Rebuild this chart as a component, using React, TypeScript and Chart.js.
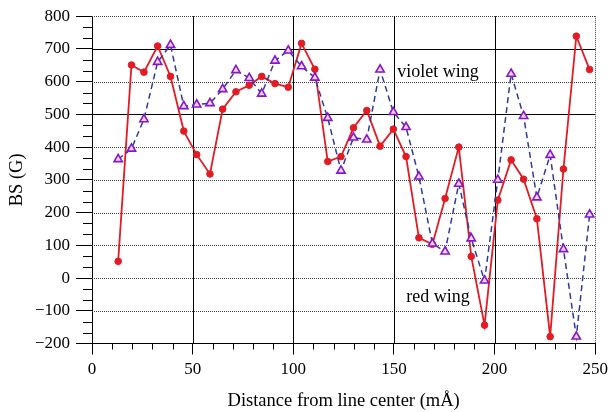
import React, { useEffect, useRef } from "react";
import { Chart, registerables } from "chart.js";

Chart.register(...registerables);

// Distance from line center (mÅ) of each sample
const distance = [
  13.0, 19.6, 25.8, 32.6, 39.0, 45.6, 52.0, 58.6, 64.9, 71.5, 78.1, 84.3, 90.9,
  97.5, 104.1, 110.7, 117.1, 123.7, 129.9, 136.5, 143.1, 149.7, 156.0, 162.4,
  169.1, 175.4, 182.2, 188.4, 195.0, 201.6, 208.2, 214.4, 221.0, 227.6, 234.2,
  240.6, 247.2,
];

// Field strength BS (G) measured in the red wing
const redWing = [
  51, 651, 629, 709, 616, 449, 377, 318, 516, 569, 589, 616, 594, 583, 717, 638,
  356, 371, 459, 512, 403, 455, 371, 123, 103, 243, 400, 66, -144, 238, 361, 302,
  181, -179, 333, 739, 637,
];

// Field strength BS (G) measured in the violet wing
const violetWing = [
  363, 395, 485, 660, 712, 525, 530, 534, 577, 635, 611, 563, 664, 695, 647, 612,
  489, 328, 429, 423, 637, 507, 461, 310, 105, 81, 288, 121, -8, 300, 624, 495,
  246, 376, 88, -179, 194,
];

const xTicks = [0, 50, 100, 150, 200, 250];
const yTicks = [-200, -100, 0, 100, 200, 300, 400, 500, 600, 700, 800];

// In-plot labels: text with its anchor in data units
const wingLabels = [
  { text: "violet wing", x: 151.7, y: 614 },
  { text: "red wing", x: 156.1, y: -74 },
];

const SERIF = "'Liberation Serif', 'DejaVu Serif', serif";

const framePlugin = {
  id: "frame",
  beforeDatasetsDraw(chart: any) {
    const { ctx, chartArea, scales } = chart;
    const { left, right, top, bottom } = chartArea;
    const xs = scales.x;
    const ys = scales.y;
    ctx.save();
    // horizontal grid
    yTicks.forEach((v) => {
      if (v === -200) return;
      const y = Math.round(ys.getPixelForValue(v)) + 0.5;
      const solid = v === 700 || v === 500;
      ctx.beginPath();
      ctx.lineWidth = 1;
      ctx.strokeStyle = solid ? "#000" : "#444";
      ctx.setLineDash(solid ? [] : [1, 1]);
      ctx.moveTo(left, y);
      ctx.lineTo(right, y);
      ctx.stroke();
    });
    // vertical grid
    xTicks.forEach((v) => {
      if (v === 0) return;
      const x = Math.round(xs.getPixelForValue(v)) + 0.5;
      const edge = v === 250;
      ctx.beginPath();
      ctx.lineWidth = 1;
      ctx.strokeStyle = edge ? "#444" : "#000";
      ctx.setLineDash(edge ? [1, 1] : []);
      ctx.moveTo(x, top);
      ctx.lineTo(x, bottom);
      ctx.stroke();
    });
    ctx.setLineDash([]);
    // minor ticks on x (every 10)
    ctx.strokeStyle = "#000";
    for (let v = 10; v < 250; v += 10) {
      if (v % 50 === 0) continue;
      const x = Math.round(xs.getPixelForValue(v)) + 0.5;
      ctx.beginPath();
      ctx.moveTo(x, bottom);
      ctx.lineTo(x, bottom + 6);
      ctx.stroke();
    }
    // minor ticks on y (thirds of 100)
    for (let k = -200; k < 800; k += 100) {
      [100 / 3, 200 / 3].forEach((d) => {
        const y = Math.round(ys.getPixelForValue(k + d)) + 0.5;
        ctx.beginPath();
        ctx.moveTo(left - 9, y);
        ctx.lineTo(left, y);
        ctx.stroke();
      });
    }
    ctx.restore();
  },
  afterDatasetsDraw(chart: any) {
    const { ctx, scales } = chart;
    ctx.save();
    ctx.fillStyle = "#000";
    ctx.font = `18px ${SERIF}`;
    ctx.textBaseline = "alphabetic";
    ctx.textAlign = "left";
    wingLabels.forEach((l) => {
      ctx.fillText(l.text, scales.x.getPixelForValue(l.x), scales.y.getPixelForValue(l.y));
    });
    ctx.restore();
  },
};

export default function App() {
  const canvasRef = useRef<HTMLCanvasElement | null>(null);

  useEffect(() => {
    const canvas = canvasRef.current;
    if (!canvas) return;
    const toPoints = (vals: number[]) => vals.map((v, i) => ({ x: distance[i], y: v }));
    const chart = new Chart(canvas, {
      type: "line",
      data: {
        datasets: [
          {
            label: "violet wing",
            data: toPoints(violetWing),
            borderColor: "#2f3a9c",
            borderWidth: 1.5,
            borderDash: [6, 4],
            pointStyle: "triangle",
            pointRadius: 4.8,
            pointBorderWidth: 1.6,
            pointBorderColor: "#8a14c8",
            pointBackgroundColor: "#eed8ff",
            fill: false,
            tension: 0,
          },
          {
            label: "red wing",
            data: toPoints(redWing),
            borderColor: "#e31b24",
            borderWidth: 1.8,
            pointStyle: "circle",
            pointRadius: 3.3,
            pointBorderWidth: 1,
            pointBorderColor: "#e31b24",
            pointBackgroundColor: "#e31b24",
            fill: false,
            tension: 0,
          },
        ],
      },
      options: {
        responsive: false,
        animation: false,
        devicePixelRatio: 1,
        layout: { padding: { top: 9, right: 15, left: 0, bottom: 0 } },
        plugins: { legend: { display: false }, tooltip: { enabled: false } },
        scales: {
          x: {
            type: "linear",
            min: 0,
            max: 250,
            afterBuildTicks: (s: any) => {
              s.ticks = xTicks.map((v) => ({ value: v }));
            },
            ticks: {
              font: { family: SERIF, size: 17 },
              color: "#000",
              padding: 5,
              maxRotation: 0,
            },
            grid: { drawOnChartArea: false, drawTicks: true, tickLength: 11, tickColor: "#000", tickWidth: 1 },
            border: { display: true, color: "#000", width: 1 },
            title: {
              display: true,
              text: "Distance from line center (mÅ)",
              font: { family: SERIF, size: 18.5 },
              color: "#000",
              padding: { top: 0, bottom: 0 },
            },
            afterFit: (s: any) => {
              s.height = 68.5;
            },
          },
          y: {
            type: "linear",
            min: -200,
            max: 800,
            afterBuildTicks: (s: any) => {
              s.ticks = yTicks.map((v) => ({ value: v }));
            },
            ticks: {
              font: { family: SERIF, size: 17 },
              color: "#000",
              padding: 6,
              callback: (v: any) => (v < 0 ? "\u2212" + Math.abs(v) : String(v)),
            },
            grid: { drawOnChartArea: false, drawTicks: true, tickLength: 16, tickColor: "#000", tickWidth: 1 },
            border: { display: true, color: "#000", width: 1 },
            title: {
              display: true,
              text: "BS (G)",
              font: { family: SERIF, size: 18.5 },
              color: "#000",
              padding: { top: 6, bottom: 0 },
            },
            afterFit: (s: any) => {
              s.width = 92;
            },
          },
        },
      },
      plugins: [framePlugin],
    });
    return () => chart.destroy();
  }, []);

  return (
    <div style={{ position: "fixed", left: 0, top: 0, width: 613, height: 412, background: "#fff" }}>
      <canvas ref={canvasRef} width={613} height={412} />
    </div>
  );
}
